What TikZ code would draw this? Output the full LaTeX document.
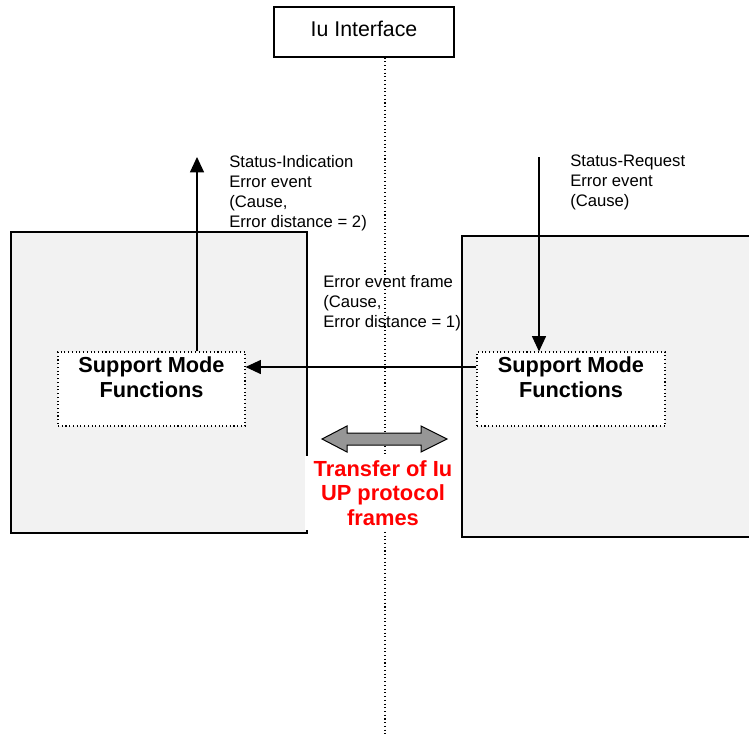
\documentclass[tikz,border=0pt]{standalone}
\usepackage{fontspec}
\setmainfont{Liberation Sans}
\usetikzlibrary{arrows.meta,positioning}
\definecolor{unitfill}{RGB}{242,242,242}
\definecolor{arrowgray}{RGB}{150,150,150}
\tikzset{
  unit/.style={draw,line width=1pt,fill=unitfill,minimum width=222pt,minimum height=225.75pt},
  smfbox/.style={draw,dotted,line width=0.8pt,fill=white,minimum width=140.25pt,minimum height=55.5pt},
  smftext/.style={inner sep=0pt,align=center,font=\bfseries\fontsize{16.3}{18.75}\selectfont},
  note/.style={inner sep=0pt,align=left,anchor=north west,font=\fontsize{12.5}{15}\selectfont},
  sig/.style={line width=0.9pt,-{Triangle[length=11.5pt,width=10.5pt]}}
}
\begin{document}
\begin{tikzpicture}[x=0.75pt,y=-0.75pt]
 \useasboundingbox (0,0) rectangle (749,735);
 \node[unit] (rncL) at (159,382.5) {};
 \node[unit,minimum width=223.5pt] (rncR) at (611,386.5) {};
 \node[draw,line width=1pt,minimum width=135pt,minimum height=37.5pt,text depth=4.5pt,
   font=\fontsize{16}{19}\selectfont] (iu) at (364,32) {Iu Interface};
 \coordinate (axisEnd) at (385,735);
 \draw[dotted,line width=0.8pt] (iu.south -| axisEnd) -- (axisEnd);

 \node[smfbox] (smfL) at (151.5,389) {};
 \node[smftext,below=3.5pt of smfL.north] (smfLtext) {Support Mode\\Functions};
 \node[smfbox,minimum width=141pt] (smfR) at (571,389) {};
 \node[smftext,below=3.5pt of smfR.north] (smfRtext) {Support Mode\\Functions};

 \coordinate (indTip) at (197,157);
 \coordinate (reqStart) at (539,157);
 \coordinate (frameLvl) at (0,367);
 \draw[sig] (smfL.north -| indTip) -- (indTip);
 \draw[sig] (reqStart) -- (reqStart |- smfR.north);
 \draw[sig] (smfR.west |- frameLvl) -- (smfL.east |- frameLvl);

 \node[note] (indText) at (229,155) {Status-Indication\\Error event\\(Cause,\\Error distance = 2)};
 \node[note] (reqText) at (570,155) {Status-Request\\Error event\\(Cause)};
 \node[note] (frameText) at (323,275) {Error event frame\\(Cause,\\Error distance = 1)};

 \draw[line width=0.75pt,fill=arrowgray] (322,439) -- (347,426) -- (347,433) -- (421,433) -- (421,426)
   -- (447,439) -- (421,452) -- (421,445) -- (347,445) -- (347,452) -- cycle;
 \node[fill=white,text=red,align=center,minimum width=117pt,minimum height=56pt,inner sep=0pt,
   font=\bfseries\fontsize{16.4}{18.4}\selectfont] (xfer) at (383,493) {Transfer of Iu\\UP protocol\\frames};
\end{tikzpicture}
\end{document}
